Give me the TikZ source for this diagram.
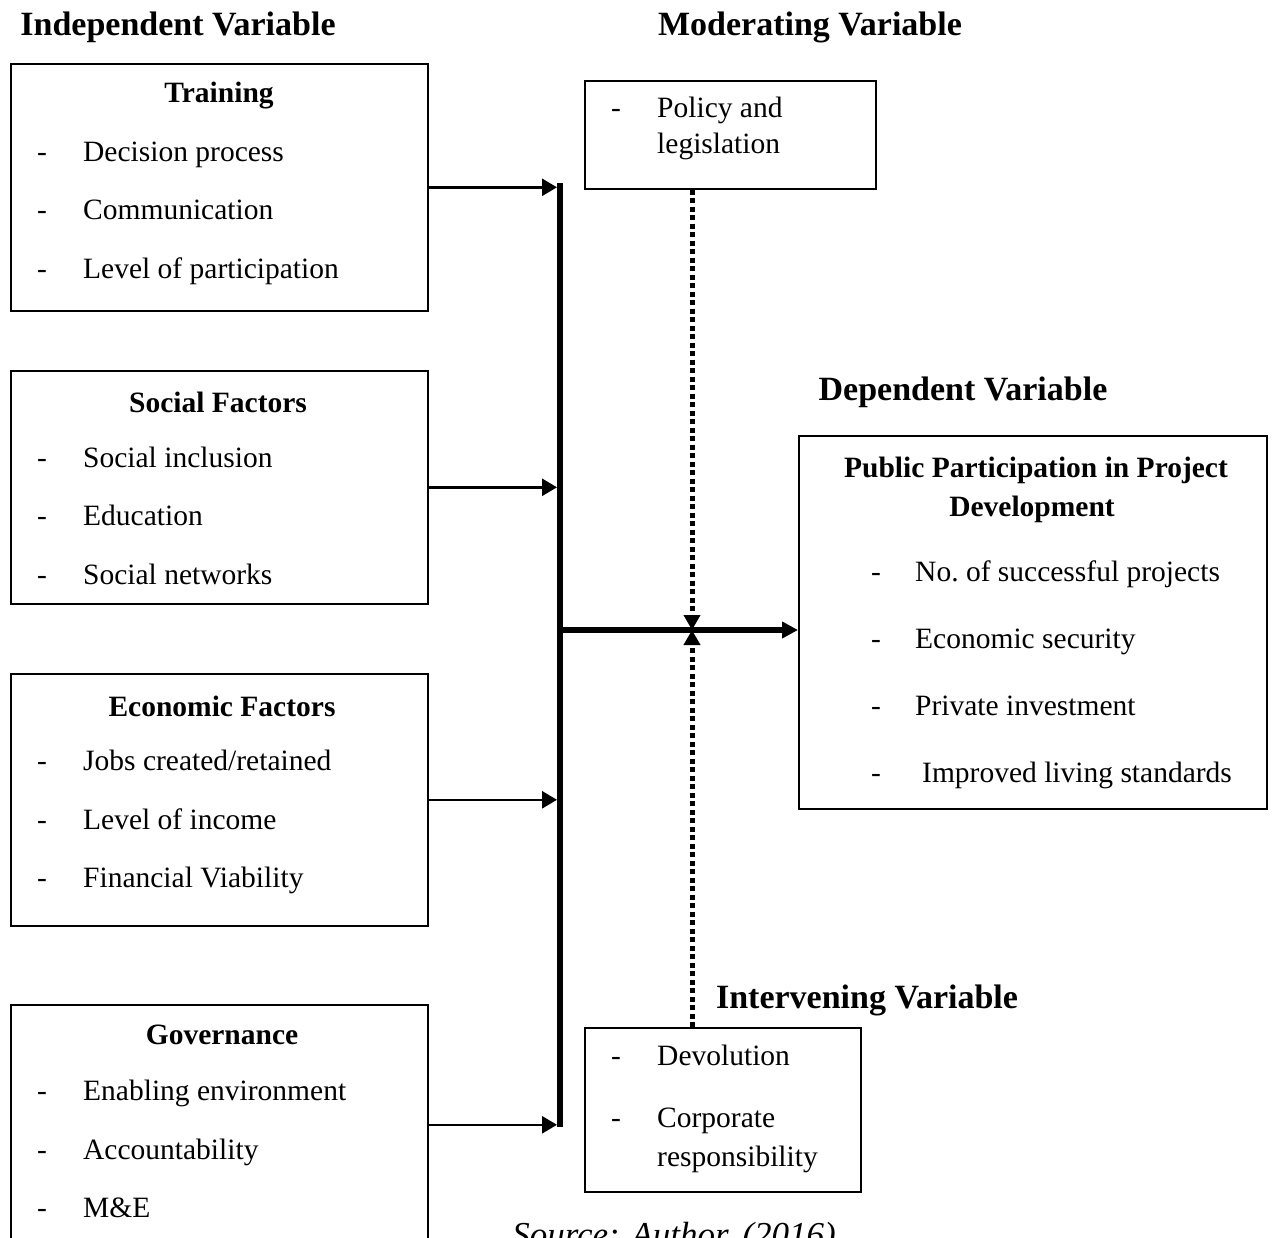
\documentclass[tikz,border=0pt]{standalone}
\usepackage{fontspec}
\setmainfont{Liberation Serif}
\usetikzlibrary{arrows.meta}

\tikzset{
  box/.style={draw, line width=1.6pt, anchor=north west, inner sep=0pt},
  title/.style={font=\fontsize{34}{40}\selectfont\bfseries},
  head/.style={font=\fontsize{29.5}{35}\selectfont\bfseries},
  item/.style={font=\fontsize{29.5}{35}\selectfont, anchor=base west, inner sep=0pt},
  feed/.style={line width=2.6pt, -{Triangle[length=15pt,width=17pt]}},
  mainline/.style={line width=5.5pt, -{Triangle[length=16pt,width=16pt]}},
  dots/.style={line width=5pt, dash pattern=on 5pt off 3.5pt, -{Triangle[length=15pt,width=16pt]}},
}

\begin{document}
\begin{tikzpicture}[x=1pt,y=-1pt]
  \useasboundingbox (0,0) rectangle (1274,1237);

  % titles
  \node[title] (tind) at (178,27) {Independent Variable};
  \node[title] (tmod) at (810,27) {Moderating Variable};
  \node[title] (tdep) at (963,392) {Dependent Variable};
  \node[title] (tint) at (867,1000) {Intervening Variable};

  % independent variables
  \node[box, minimum width=417pt, minimum height=247pt] (train) at (10,63) {};
  \node[head] (htrain) at (219,96) {Training};
  \node[item] (d11) at (37,161) {-};
  \node[item] (i11) at (83,161) {Decision process};
  \node[item] (d12) at (37,219) {-};
  \node[item] (i12) at (83,219) {Communication};
  \node[item] (d13) at (37,278) {-};
  \node[item] (i13) at (83,278) {Level of participation};

  \node[box, minimum width=417pt, minimum height=233pt] (social) at (10,370) {};
  \node[head] (hsocial) at (218,402) {Social Factors};
  \node[item] (d21) at (37,467) {-};
  \node[item] (i21) at (83,467) {Social inclusion};
  \node[item] (d22) at (37,525) {-};
  \node[item] (i22) at (83,525) {Education};
  \node[item] (d23) at (37,584) {-};
  \node[item] (i23) at (83,584) {Social networks};

  \node[box, minimum width=417pt, minimum height=252pt] (econ) at (10,673) {};
  \node[head] (hecon) at (222,706) {Economic Factors};
  \node[item] (d31) at (37,770) {-};
  \node[item] (i31) at (83,770) {Jobs created/retained};
  \node[item] (d32) at (37,829) {-};
  \node[item] (i32) at (83,829) {Level of income};
  \node[item] (d33) at (37,887) {-};
  \node[item] (i33) at (83,887) {Financial Viability};

  \node[box, minimum width=417pt, minimum height=240pt] (gov) at (10,1004) {};
  \node[head] (hgov) at (222,1035) {Governance};
  \node[item] (d41) at (37,1100) {-};
  \node[item] (i41) at (83,1100) {Enabling environment};
  \node[item] (d42) at (37,1159) {-};
  \node[item] (i42) at (83,1159) {Accountability};
  \node[item] (d43) at (37,1217) {-};
  \node[item] (i43) at (83,1217) {M\&E};

  % moderating variable
  \node[box, minimum width=291pt, minimum height=108pt] (policy) at (584,80) {};
  \node[item] (d51) at (611,117) {-};
  \node[item] (i51) at (657,117) {Policy and};
  \node[item] (i52) at (657,153) {legislation};

  % dependent variable
  \node[box, minimum width=468pt, minimum height=373pt] (dep) at (798,435) {};
  \node[head] (hdep1) at (1036,470) {Public Participation in Project};
  \node[head] (hdep2) at (1032,509) {Development};
  \node[item] (d61) at (871,581) {-};
  \node[item] (i61) at (915,581) {No.\ of successful projects};
  \node[item] (d62) at (871,648) {-};
  \node[item] (i62) at (915,648) {Economic security};
  \node[item] (d63) at (871,715) {-};
  \node[item] (i63) at (915,715) {Private investment};
  \node[item] (d64) at (871,782) {-};
  \node[item] (i64) at (922,782) {Improved living standards};

  % intervening variable
  \node[box, minimum width=276pt, minimum height=164pt] (devo) at (584,1027) {};
  \node[item] (d71) at (611,1065) {-};
  \node[item] (i71) at (657,1065) {Devolution};
  \node[item] (d72) at (611,1127) {-};
  \node[item] (i72) at (657,1127) {Corporate};
  \node[item] (i73) at (657,1166) {responsibility};

  \node[font=\fontsize{35}{40}\selectfont\itshape, anchor=base] (src) at (674,1246) {Source: Author, (2016)};

  % connectors
  \coordinate (stop) at (560,183);
  \coordinate (sbot) at (560,1127);
  \coordinate (junc) at (560,630);
  \coordinate (mid) at (692,630);
  \draw[line width=6pt] (stop) -- (sbot);
  \draw[feed] (train.east) -- (train.east -| 557,0);
  \draw[feed] (social.east) -- (social.east -| 557,0);
  \draw[feed] (econ.east) -- (econ.east -| 557,0);
  \draw[feed] (gov.east) -- (gov.east -| 557,0);
  \draw[mainline] (junc) -- (dep.west |- junc);
  \draw[dots] (policy.south -| mid) -- (mid);
  \draw[dots] (devo.north -| mid) -- (mid);
\end{tikzpicture}
\end{document}
